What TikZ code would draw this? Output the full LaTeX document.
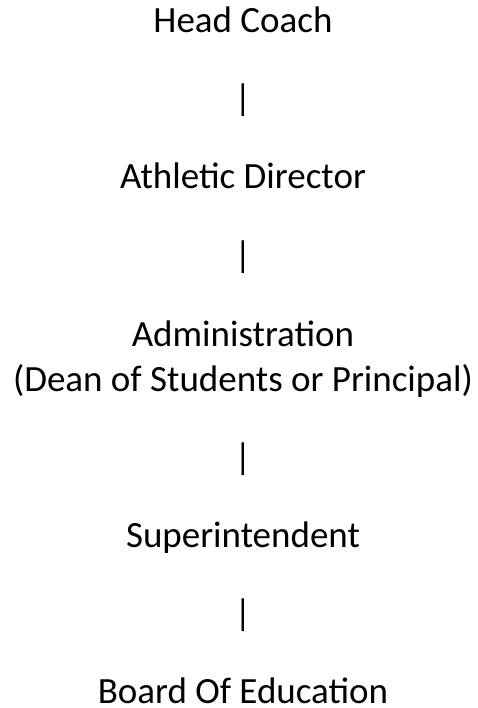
\documentclass[tikz,border=0pt]{standalone}
\usepackage{fontspec}
\setmainfont{Carlito}
\begin{document}
\begin{tikzpicture}[x=1pt,y=-1pt,
  lbl/.style={inner sep=0pt,font=\fontsize{37}{45}\selectfont,anchor=base},
  bar/.style={inner sep=0pt,font=\fontsize{37}{45}\selectfont,anchor=base}]
\useasboundingbox (0,0) rectangle (477,708);
\node[lbl] (hc) at (243,33) {Head Coach};
\node[bar] (b1) at (243,111) {|};
\node[lbl] (ad) at (243,189) {Athletic Director};
\node[bar] (b2) at (243,267) {|};
\node[lbl] (adm) at (243,346) {Administration};
\node[lbl] (dean) at (243,391) {(Dean of Students or Principal)};
\node[bar] (b3) at (243,469) {|};
\node[lbl] (sup) at (243,547) {Superintendent};
\node[bar] (b4) at (243,625) {|};
\node[lbl] (boe) at (243,703) {Board Of Education};
\end{tikzpicture}
\end{document}
